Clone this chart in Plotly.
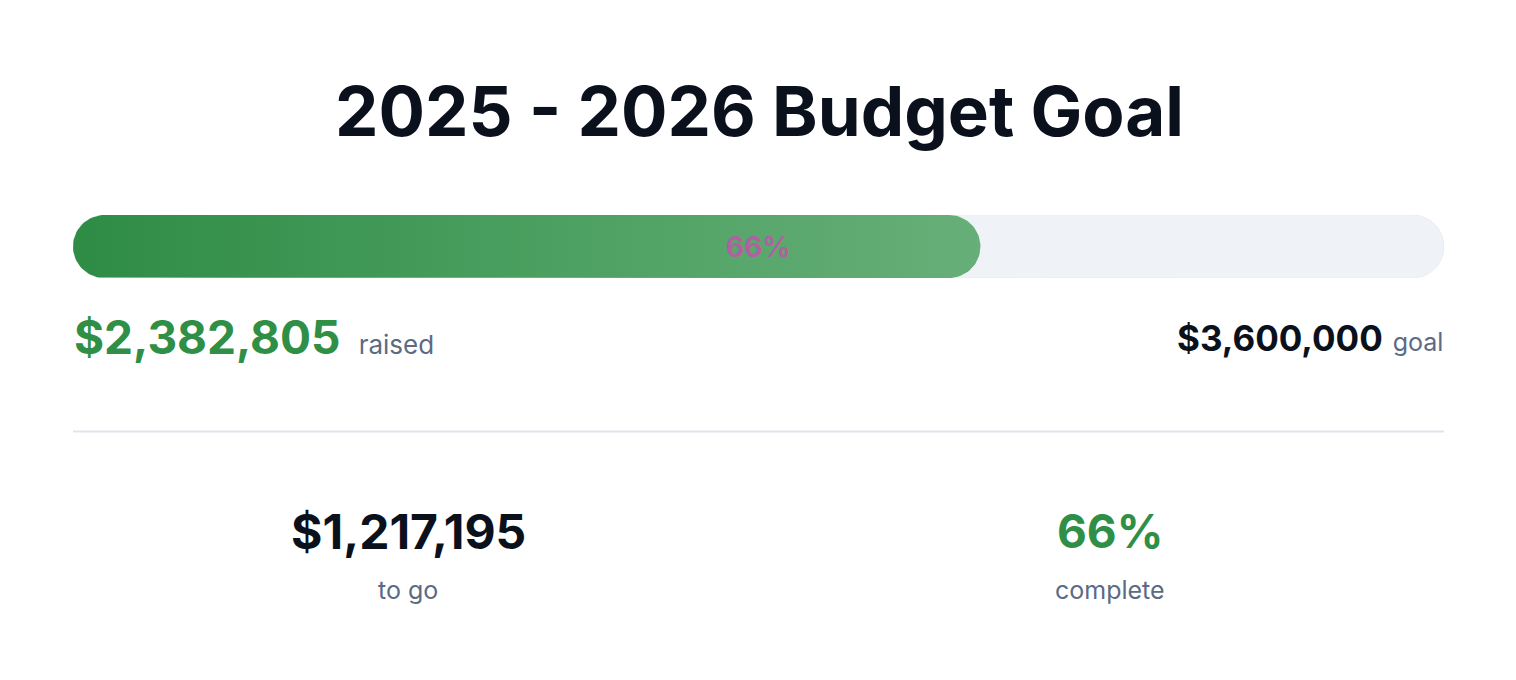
import math
import plotly.graph_objects as go

# ---- data ----
title_text = "2025 - 2026 Budget Goal"
raised = 2382805
goal = 3600000
raised_label = "raised"
goal_label = "goal"
togo_label = "to go"
complete_label = "complete"

# page is 1516x680; the html body has an 8px margin
OFF = 8
W, H = 1516 - 2 * OFF, 680 - 2 * OFF
BAR_L, BAR_R = 73, 1444
BAR_T, BAR_B = 215, 278

pct = round(raised / goal * 100)
to_go = goal - raised

FONT = "Inter, 'Noto Sans', sans-serif"
GREEN = "#2f8f46"
DARK = "#0b111c"
GRAY = "#5b6b84"

bar_px = BAR_R - BAR_L
bar_h = BAR_B - BAR_T
r = bar_h / 2


def pill(value):
    """rounded bar outline from 0 to value, in the bar axis' data units"""
    length = value / goal * bar_px
    xs, ys = [], []
    n = 40
    for i in range(n + 1):
        a = math.pi / 2 - math.pi * i / n
        xs.append(length - r + r * math.cos(a))
        ys.append(r + r * math.sin(a))
    for i in range(n + 1):
        a = -math.pi / 2 - math.pi * i / n
        xs.append(r + r * math.cos(a))
        ys.append(r + r * math.sin(a))
    xs.append(xs[0]); ys.append(ys[0])
    return [x / bar_px * goal for x in xs], [y / bar_h for y in ys]


def px(x):
    return (x - OFF) / W


def py(y):
    return 1 - (y - OFF) / H


fig = go.Figure()

tx, ty = pill(goal)
fig.add_trace(go.Scatter(x=tx, y=ty, mode="lines", fill="toself",
                         fillcolor="#eff3f8", line=dict(width=1, color="#e8edf3"),
                         hoverinfo="skip", showlegend=False))
fx, fy = pill(raised)
fig.add_trace(go.Scatter(x=fx, y=fy, mode="lines", fill="toself",
                         fillgradient=dict(type="horizontal",
                                           colorscale=[[0, "#2e8c45"], [0.5, "#4a9f5f"], [1, "#67af79"]]),
                         line=dict(width=0, color="rgba(0,0,0,0)"),
                         hoverinfo="skip", showlegend=False))

ann = []
ann.append(dict(x=px(759), y=py(111), text=f"<b>{title_text}</b>",
                font=dict(size=69, color=DARK, family=FONT)))
ann.append(dict(x=px((BAR_L + BAR_R) / 2), y=py(247), text=f"<b>{pct}%</b>",
                font=dict(size=28, color="#b160a2", family=FONT)))
ann.append(dict(x=px(BAR_L - 1), y=py(337), xanchor="left",
                text=f"<b>${raised:,} </b><span style='font-size:26px;color:{GRAY}'> {raised_label}</span>",
                font=dict(size=46, color=GREEN, family=FONT)))
ann.append(dict(x=px(BAR_R + 1), y=py(338), xanchor="right",
                text=f"<b>${goal:,}</b> <span style='font-size:25px;color:{GRAY}'>{goal_label}</span>",
                font=dict(size=35, color=DARK, family=FONT)))
ann.append(dict(x=px(408), y=py(531), text=f"<b>${to_go:,}</b>",
                font=dict(size=48, color=DARK, family=FONT)))
ann.append(dict(x=px(408), y=py(590), text=togo_label,
                font=dict(size=25, color=GRAY, family=FONT)))
ann.append(dict(x=px(1110), y=py(531), text=f"<b>{pct}%</b>",
                font=dict(size=46, color=GREEN, family=FONT)))
ann.append(dict(x=px(1110), y=py(590), text=complete_label,
                font=dict(size=25, color=GRAY, family=FONT)))
for a in ann:
    a.setdefault("xanchor", "center")
    a["yanchor"] = "middle"
    a["xref"] = "paper"
    a["yref"] = "paper"
    a["showarrow"] = False

fig.update_layout(
    width=W, height=H, autosize=False,
    margin=dict(l=0, r=0, t=0, b=0),
    paper_bgcolor="white", plot_bgcolor="white",
    xaxis=dict(domain=[px(BAR_L), px(BAR_R)], range=[0, goal], visible=False, fixedrange=True),
    yaxis=dict(domain=[py(BAR_B), py(BAR_T)], range=[0, 1], visible=False, fixedrange=True),
    annotations=ann,
    shapes=[dict(type="line", xref="paper", yref="paper",
                 x0=px(BAR_L), x1=px(BAR_R), y0=py(431.5), y1=py(431.5),
                 line=dict(color="#dfe5ee", width=2))],
)

fig.write_html("out.html", config={"displayModeBar": False})
